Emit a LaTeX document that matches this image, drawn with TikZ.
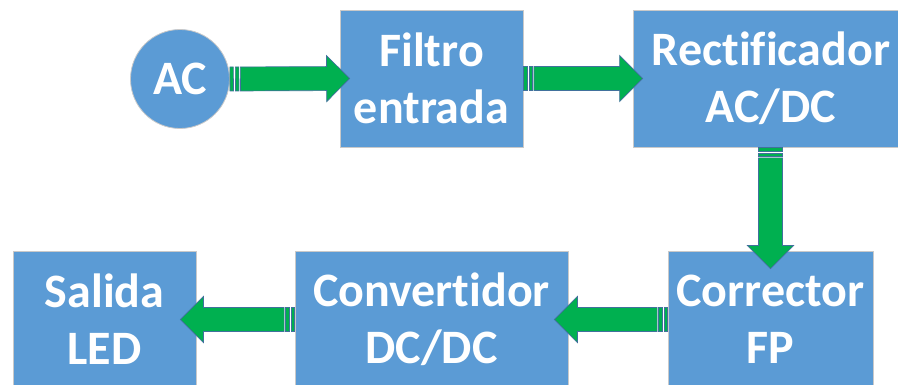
\documentclass[tikz,border=0pt]{standalone}
\usepackage{fontspec}
\setmainfont{Carlito}[Ligatures={NoCommon}]
\usetikzlibrary{calc}
\definecolor{boxblue}{HTML}{5B9BD5}
\definecolor{boxline}{HTML}{C9C9C9}
\definecolor{arrgreen}{HTML}{00B050}
\definecolor{arrline}{HTML}{41719C}
\tikzset{
  blk/.style={rectangle, fill=boxblue, draw=boxline, line width=0.8pt,
    text=white, font=\fontsize{48}{57}\selectfont\bfseries, align=center, inner sep=0pt},
  acnode/.style={circle, fill=boxblue, draw=boxline, line width=0.8pt,
    text=white, font=\fontsize{48}{57}\selectfont\bfseries, inner sep=0pt, minimum size=99pt},
  arrbody/.style={fill=arrgreen, draw=arrline, line width=0.7pt, line join=miter}
}
\newcommand\sarrow[2]{%
  \coordinate (sa) at (#1);
  \coordinate (sb) at (#2);
  \coordinate (q0) at ($(sa)!10.5pt!(sb)$);
  \coordinate (q1) at ($(sb)!23pt!(sa)$);
  \coordinate (r1) at ($(sa)!3.5pt!(sb)$);
  \coordinate (r2) at ($(sa)!5.5pt!(sb)$);
  \coordinate (r3) at ($(sa)!9pt!(sb)$);
  \filldraw[arrbody] ($(sa)!12pt!90:(sb)$) -- ($(r1)!12pt!90:(sb)$) -- ($(r1)!12pt!-90:(sb)$) -- ($(sa)!12pt!-90:(sb)$) -- cycle;
  \filldraw[arrbody] ($(r2)!12pt!90:(sb)$) -- ($(r3)!12pt!90:(sb)$) -- ($(r3)!12pt!-90:(sb)$) -- ($(r2)!12pt!-90:(sb)$) -- cycle;
  \filldraw[arrbody] ($(q0)!12pt!90:(sb)$) -- ($(q1)!12pt!90:(sb)$) -- ($(q1)!23pt!90:(sb)$) -- (sb)
    -- ($(q1)!23pt!-90:(sb)$) -- ($(q1)!12pt!-90:(sb)$) -- ($(q0)!12pt!-90:(sb)$) -- cycle;
}
\begin{document}
\begin{tikzpicture}[x=1pt, y=-1pt]
\useasboundingbox (0,0) rectangle (898,385);
\clip (0,0) rectangle (898,385);
% top row
\node[acnode] (ac) at (180,79) {AC};
\node[blk, minimum width=183pt, minimum height=137pt] (filtro) at (431.5,78.5) {Filtro\\entrada};
\node[blk, minimum width=276pt, minimum height=137pt] (rect) at (771,78.5) {Rectificador\\AC/DC};
% bottom row
\node[blk, minimum width=183pt, minimum height=137pt] (salida) at (104.5,319.5) {Salida\\LED};
\node[blk, minimum width=273pt, minimum height=137pt] (conv) at (431.5,319.5) {Convertidor\\DC/DC};
\node[blk, minimum width=205pt, minimum height=137pt] (corr) at (770.5,319.5) {Corrector\\FP};
% arrows
\sarrow{ac.east}{[xshift=10pt]filtro.west}
\sarrow{filtro.east}{[xshift=10pt]rect.west}
\sarrow{corr.north |- rect.south}{[yshift=-18pt]corr.north}
\sarrow{corr.west}{[xshift=-14pt]conv.east}
\sarrow{conv.west}{[xshift=-16pt]salida.east}
\end{tikzpicture}
\end{document}
